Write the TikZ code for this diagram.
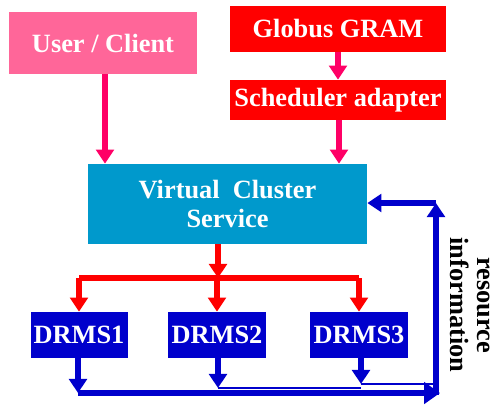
\documentclass[tikz,border=0pt]{standalone}
\usepackage{fontspec}
\setmainfont{Liberation Serif}
\usetikzlibrary{positioning}
\usetikzlibrary{arrows.meta,calc}
\definecolor{userpink}{RGB}{255,102,153}
\definecolor{linkpink}{RGB}{255,0,102}
\definecolor{gridred}{RGB}{255,0,0}
\definecolor{vcsblue}{RGB}{0,153,204}
\definecolor{drmsblue}{RGB}{0,0,204}
\tikzstyle{box}=[rectangle,inner sep=0pt,text=white,font=\fontsize{15}{17}\selectfont\bfseries,align=center]
\tikzstyle{pinkedge} = [draw,line width=3pt,linkpink,-{Triangle[width=10pt,length=8pt]}]
\tikzstyle{rededge} = [draw,line width=3pt,gridred,-{Triangle[width=10pt,length=8pt]}]
\tikzstyle{blueedge} = [draw,line width=3pt,drmsblue,-{Triangle[width=10pt,length=8pt]}]
\tikzstyle{bluebus} = [draw,line width=3.4pt,drmsblue]
\tikzstyle{thinbus} = [draw,line width=1.6pt,drmsblue]

\begin{document}
\begin{tikzpicture}
    \useasboundingbox (0,0) rectangle (9.92,-8.1);

    \node[box,fill=userpink,minimum width=3.76cm,minimum height=1.24cm] (user) at (2.06,-0.86) {User / Client};
    \node[box,fill=gridred,minimum width=4.32cm,minimum height=0.92cm] (gram) at (6.76,-0.58) {Globus GRAM};
    \node[box,fill=gridred,minimum width=4.32cm,minimum height=0.8cm] (sched) at (6.76,-2.0) {Scheduler adapter};
    \node[box,fill=vcsblue,minimum width=5.58cm,minimum height=1.6cm] (vcs) at (4.55,-4.08) {Virtual\ \ Cluster\\Service};

    \foreach \pos/\name/\label in {{(1.58,-6.7)/drms1/DRMS1}, {(4.34,-6.7)/drms2/DRMS2}, {(7.18,-6.7)/drms3/DRMS3}}
        \node[box,fill=drmsblue,minimum width=1.94cm,minimum height=0.92cm] (\name) at \pos {\label};

    % requests
    \coordinate (userout) at (2.1,-1.48);
    \coordinate (schedout) at (6.78,-2.4);
    \path[pinkedge] (gram.south) -- (sched.north);
    \path[pinkedge] (userout) -- (userout |- vcs.north);
    \path[pinkedge] (schedout) -- (schedout |- vcs.north);

    % dispatch to the DRMS
    \coordinate (split) at (4.36,-5.56);
    \path[rededge] (split |- vcs.south) -- (split);
    \draw[gridred,line width=3pt] (drms1.north |- split) -- (drms3.north |- split);
    \foreach \dest in {drms1,drms2,drms3}
        \path[rededge] (\dest.north |- split) -- (\dest.north);

    % resource information
    \coordinate (c1) at (1.56,-7.86);
    \coordinate (c2) at (4.36,-7.76);
    \coordinate (c3) at (7.22,-7.68);
    \coordinate (busend) at (8.8,-7.86);
    \coordinate (corner) at (8.72,-4.06);
    \foreach \src/\dest in {drms1/c1, drms2/c2, drms3/c3}
        \path[blueedge] (\src.south -| \dest) -- (\dest);
    \path[thinbus] (c2) -- (c2 -| c3);
    \path[thinbus] (c3) -- (c3 -| corner);
    \path[bluebus,-{Triangle[width=12pt,length=9pt]}] (c1) -- (busend);
    \path[blueedge] (corner |- busend) ++(0,-0.04) -- (corner);
    \path[blueedge] (corner) -- (vcs.east |- corner);

    \node[font=\fontsize{15}{15}\selectfont\bfseries,align=center,rotate=-90] (resinfo) at (9.4,-6.1) {resource\\information};
\end{tikzpicture}
\end{document}
